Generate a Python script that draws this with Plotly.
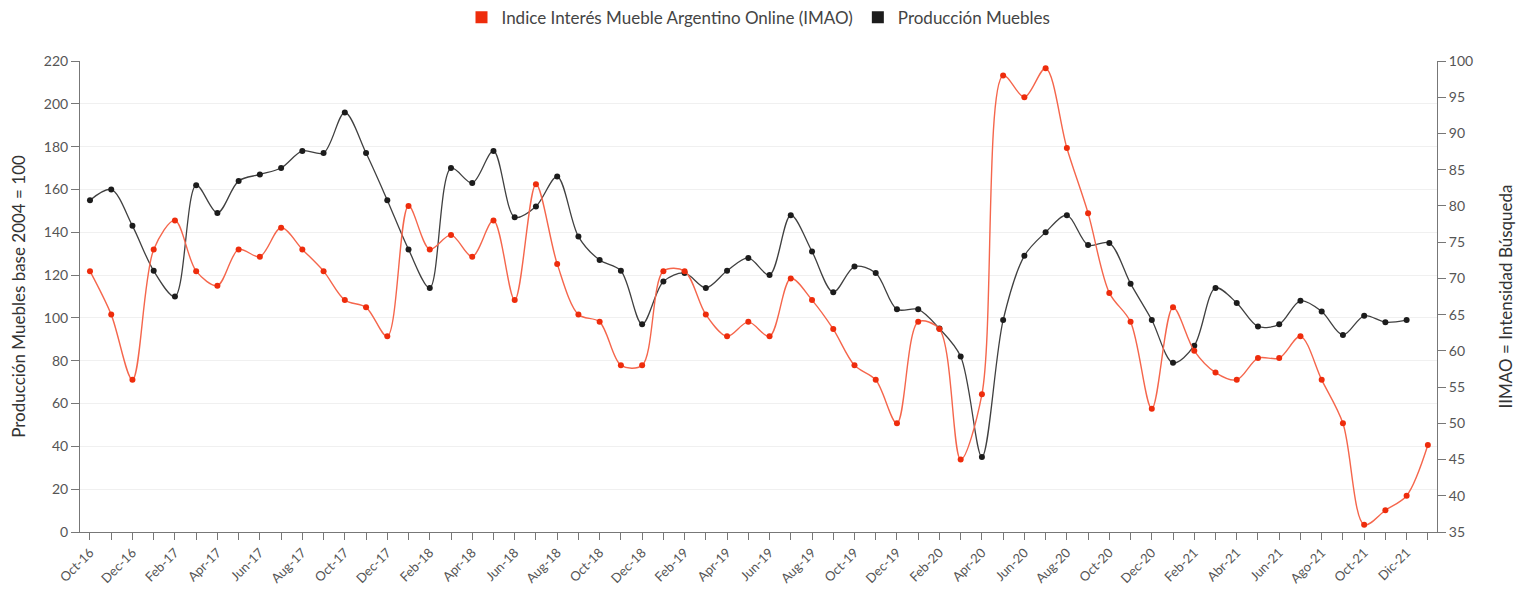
import plotly.graph_objects as go

categories = [
    "Oct-16", "Nov-16", "Dec-16",
    "Jan-17", "Feb-17", "Mar-17", "Apr-17", "May-17", "Jun-17", "Jul-17", "Aug-17", "Sep-17", "Oct-17", "Nov-17", "Dec-17",
    "Jan-18", "Feb-18", "Mar-18", "Apr-18", "May-18", "Jun-18", "Jul-18", "Aug-18", "Sep-18", "Oct-18", "Nov-18", "Dec-18",
    "Jan-19", "Feb-19", "Mar-19", "Apr-19", "May-19", "Jun-19", "Jul-19", "Aug-19", "Sep-19", "Oct-19", "Nov-19", "Dec-19",
    "Jan-20", "Feb-20", "Mar-20", "Apr-20", "May-20", "Jun-20", "Jul-20", "Aug-20", "Sep-20", "Oct-20", "Nov-20", "Dec-20",
    "Ene-21", "Feb-21", "Mar-21", "Abr-21", "May-21", "Jun-21", "Jul-21", "Ago-21", "Sep-21", "Oct-21", "Nov-21", "Dic-21",
    "Ene-22",
]

imao = [
    71, 65, 56,
    74, 78, 71, 69, 74, 73, 77, 74, 71, 67, 66, 62,
    80, 74, 76, 73, 78, 67, 83, 72, 65, 64, 58, 58,
    71, 71, 65, 62, 64, 62, 70, 67, 63, 58, 56, 50,
    64, 63, 45, 54, 98, 95, 99, 88, 79, 68, 64, 52,
    66, 60, 57, 56, 59, 59, 62, 56, 50, 36, 38, 40,
    47,
]

produccion = [
    155, 160, 143,
    122, 110, 162, 149, 164, 167, 170, 178, 177, 196, 177, 155,
    132, 114, 170, 163, 178, 147, 152, 166, 138, 127, 122, 97,
    117, 121, 114, 122, 128, 120, 148, 131, 112, 124, 121, 104,
    104, 95, 82, 35, 99, 129, 140, 148, 134, 135, 116, 99,
    79, 87, 114, 107, 96, 97, 108, 103, 92, 101, 98, 99,
    None,
]

tick_labels = [c if i % 2 == 0 else "" for i, c in enumerate(categories)]

name_imao = "Indice Interés Mueble Argentino Online (IMAO)"
name_prod = "Producción Muebles"

RED = "#ee2c0c"
BLACK = "#1c1c1c"
FONT = "Lato, 'Source Sans Pro', 'Noto Sans', sans-serif"

fig = go.Figure()

fig.add_trace(go.Scatter(
    x=categories, y=produccion, name=name_prod, yaxis="y",
    mode="lines+markers", line=dict(color="#404040", width=1.3, shape="spline", smoothing=0.9),
    marker=dict(color=BLACK, size=6), showlegend=False, connectgaps=False,
))
fig.add_trace(go.Scatter(
    x=categories, y=imao, name=name_imao, yaxis="y2",
    mode="lines+markers", line=dict(color="#f5664c", width=1.4, shape="spline", smoothing=0.9),
    marker=dict(color=RED, size=6), showlegend=False,
))

# legend entries (square swatches)
fig.add_trace(go.Scatter(x=[None], y=[None], name=name_imao, mode="markers",
                         marker=dict(symbol="square", size=15, color=RED), showlegend=True))
fig.add_trace(go.Scatter(x=[None], y=[None], name=name_prod, mode="markers",
                         marker=dict(symbol="square", size=15, color=BLACK), showlegend=True))

# page body has an 8px default margin, so the figure is sized/offset to compensate
fig.update_layout(
    width=1511, height=578,
    margin=dict(l=72, r=82, t=53, b=54, autoexpand=False),
    paper_bgcolor="white", plot_bgcolor="white",
    font=dict(family=FONT, size=14, color="#555555"),
    legend=dict(orientation="h", x=0.5, xanchor="center", y=1.092, yanchor="middle",
                font=dict(size=17, color="#444444"), itemsizing="constant",
                traceorder="normal", itemwidth=30),
    showlegend=True,
    xaxis=dict(
        type="category", categoryorder="array", categoryarray=categories,
        range=[-0.47, 63.43], automargin=False,
        tickmode="array", tickvals=categories, ticktext=tick_labels,
        tickangle=-45, ticks="outside", ticklen=7, tickcolor="#777777",
        showline=True, linecolor="#777777", linewidth=1,
        showgrid=False, zeroline=False,
        tickfont=dict(size=13, color="#555555"),
    ),
    yaxis=dict(
        range=[0, 220], dtick=20, tick0=0, automargin=False,
        ticks="outside", ticklen=8, tickcolor="#777777",
        showline=True, linecolor="#777777", linewidth=1,
        showgrid=True, gridcolor="#f0f0f0", zeroline=False,
        title=dict(text="Producción Muebles base 2004 = 100", font=dict(size=17, color="#333333"), standoff=14),
        tickfont=dict(size=14, color="#555555"),
    ),
    yaxis2=dict(
        range=[35, 100], dtick=5, tick0=35, overlaying="y", side="right", automargin=False,
        ticks="outside", ticklen=8, tickcolor="#777777",
        showline=True, linecolor="#777777", linewidth=1,
        showgrid=False, zeroline=False,
        title=dict(text="IIMAO = Intensidad Búsqueda", font=dict(size=17, color="#333333"), standoff=27),
        tickfont=dict(size=14, color="#555555"),
    ),
)

fig.write_html("out.html")
